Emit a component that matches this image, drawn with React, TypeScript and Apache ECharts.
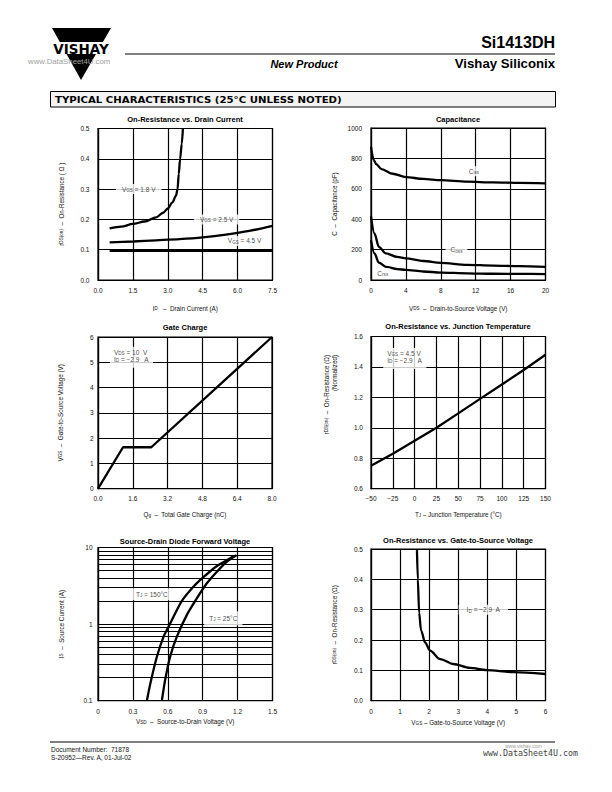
import React, { useEffect, useRef } from 'react';
import * as echarts from 'echarts';

const FONT = '"Liberation Sans", Arial, Helvetica, sans-serif';

// ---- Chart 1: On-Resistance vs. Drain Current ----
const ID_VGS18 = [0.5, 1.0, 1.5, 2.0, 2.5, 2.8, 3.0, 3.2, 3.35, 3.42, 3.47, 3.53, 3.6, 3.65];
const RDS_VGS18 = [0.170, 0.176, 0.185, 0.193, 0.207, 0.222, 0.236, 0.256, 0.278, 0.300, 0.350, 0.400, 0.450, 0.500];
const ID_VGS25 = [0.5, 1.5, 2.5, 3.5, 4.5, 5.5, 6.5, 7.5];
const RDS_VGS25 = [0.124, 0.127, 0.131, 0.135, 0.141, 0.150, 0.162, 0.179];
const ID_VGS45 = [0.5, 7.5];
const RDS_VGS45 = [0.096, 0.096];

// ---- Chart 2: Capacitance ----
const VDS_CAP = [0, 0.3, 0.6, 1.2, 2.5, 4, 6, 8, 11, 14, 17, 20];
const CISS = [878, 790, 762, 730, 699, 677, 665, 657, 647, 642, 639, 636];
const VDS_COSS = [0, 0.4, 0.9, 1.7, 3, 4, 6, 8, 11, 14, 17, 20];
const COSS = [419, 306, 218, 175, 152, 142, 125, 113, 100, 95, 91, 87];
const CRSS = [262, 175, 114, 87, 72, 66, 56, 49, 44, 41, 40, 39];

// ---- Chart 3: Gate Charge ----
const QG = [0, 1.15, 2.45, 8.0];
const VGS_QG = [0, 1.64, 1.64, 6.0];

// ---- Chart 4: On-Resistance vs. Junction Temperature ----
const TJ = [-50, -25, 0, 25, 50, 75, 100, 125, 150];
const RDS_NORM = [0.75, 0.83, 0.915, 1.0, 1.095, 1.19, 1.285, 1.38, 1.48];

// ---- Chart 5: Source-Drain Diode Forward Voltage ----
const VSD_150 = [0.42, 0.45, 0.506, 0.563, 0.606, 0.649, 0.72, 0.82, 0.906, 1.02, 1.134, 1.16];
const IS_150 = [0.1, 0.168, 0.375, 0.68, 0.92, 1.25, 2.0, 3.07, 4.1, 5.7, 7.2, 7.7];
const VSD_25 = [0.549, 0.577, 0.62, 0.677, 0.763, 0.849, 0.934, 1.02, 1.106, 1.19];
const IS_25 = [0.1, 0.186, 0.375, 0.68, 1.31, 2.16, 3.39, 4.8, 6.5, 7.9];
const IS_MINOR_TICKS = [0.2, 0.3, 0.4, 0.5, 0.6, 0.7, 0.8, 0.9, 2, 3, 4, 5, 6, 7, 8, 9];

// ---- Chart 6: On-Resistance vs. Gate-to-Source Voltage ----
const VGS_R = [1.58, 1.61, 1.655, 1.72, 1.86, 2.03, 2.38, 2.83, 3.4, 3.98, 4.89, 6.0];
const RDS_VGS = [0.5, 0.4, 0.29, 0.232, 0.192, 0.165, 0.137, 0.121, 0.108, 0.101, 0.094, 0.088];

// ---- Titles ----
const TITLES = [
  'On-Resistance vs. Drain Current',
  'Capacitance',
  'Gate Charge',
  'On-Resistance vs. Junction Temperature',
  'Source-Drain Diode Forward Voltage',
  'On-Resistance vs. Gate-to-Source Voltage',
];

const zip = (xs: number[], ys: number[]) => xs.map((x, i) => [x, ys[i]]);

const SUB = { fontSize: 4.6, fontFamily: FONT, color: '#111', verticalAlign: 'bottom', lineHeight: 4 };
const BASE_TXT = { fontSize: 6.5, fontFamily: FONT, color: '#111' };

const GRIDS = [
  { left: 98, top: 128.5, width: 174.5, height: 151.5 },
  { left: 371, top: 128, width: 174.5, height: 152 },
  { left: 98, top: 337, width: 174, height: 151.7 },
  { left: 371, top: 336.5, width: 174.5, height: 152.2 },
  { left: 98, top: 547.5, width: 174.5, height: 153.2 },
  { left: 371, top: 549, width: 174.5, height: 151.7 },
];

const LINE = { color: '#000', width: 1.2 };

function axis(gridIndex: number, o: any) {
  const a: any = {
    type: o.log ? 'log' : 'value',
    gridIndex,
    min: o.min,
    max: o.max,
    axisLine: { show: true, onZero: false, lineStyle: LINE },
    axisTick: { show: false },
    axisLabel: { show: true, fontSize: 6.5, fontFamily: FONT, color: '#111', margin: o.margin, formatter: o.fmt },
    splitLine: { show: true, lineStyle: LINE },
    name: o.name,
    nameLocation: 'middle',
    nameGap: o.gap,
    nameTextStyle: { fontSize: 6.3, fontFamily: FONT, color: '#111', rich: { s: SUB } },
  };
  if (o.log) {
    a.logBase = 10;
    a.splitNumber = 2;
  } else {
    a.interval = o.interval;
  }
  return a;
}

const f1 = (v: number) => v.toFixed(1);
const fInt = (v: number) => String(Math.round(v));

function curve(i: number, data: number[][], extra: any = {}) {
  return {
    type: 'line',
    xAxisIndex: i,
    yAxisIndex: i,
    data,
    symbol: 'none',
    showSymbol: false,
    smooth: 0.3,
    lineStyle: { color: '#000', width: 2.3 },
    silent: true,
    z: 3,
    ...extra,
  };
}

function notes(i: number, items: any[]) {
  return {
    type: 'scatter',
    xAxisIndex: i,
    yAxisIndex: i,
    symbolSize: 1,
    itemStyle: { color: 'rgba(0,0,0,0)' },
    silent: true,
    z: 5,
    data: items.map((n) => ({
      value: [n.x, n.y],
      label: {
        show: true,
        position: 'inside',
        formatter: n.text,
        align: n.align || 'center',
        ...BASE_TXT,
        lineHeight: n.lh || 8,
        backgroundColor: '#fff',
        padding: n.pad || [1, 5],
        rich: { s: SUB },
      },
    })),
  };
}

function txt(x: number, y: number, text: string, s: any = {}, extra: any = {}) {
  const style: any = {
    text,
    fill: '#111',
    fontSize: 6.5,
    fontFamily: FONT,
    align: 'left',
    verticalAlign: 'middle',
    textAlign: 'left',
    textVerticalAlign: 'middle',
    ...s,
  };
  if (s.align) style.textAlign = s.align;
  return { type: 'text', x, y, style, ...extra };
}

export default function App() {
  const ref = useRef<HTMLDivElement>(null);
  useEffect(() => {
    if (!ref.current) return;
    const chart = echarts.init(ref.current, null, { renderer: 'svg' });

    const xAxes = [
      axis(0, { min: 0, max: 7.5, interval: 1.5, fmt: f1, margin: 6.5, gap: 25, name: 'I{s|D}   –  Drain Current (A)' }),
      axis(1, { min: 0, max: 20, interval: 4, fmt: fInt, margin: 6.5, gap: 25, name: 'V{s|DS}  –  Drain-to-Source Voltage (V)' }),
      axis(2, { min: 0, max: 8, interval: 1.6, fmt: f1, margin: 6, gap: 23, name: 'Q{s|g}  –  Total Gate Charge (nC)' }),
      axis(3, { min: -50, max: 150, interval: 25, fmt: (v: number) => (v < 0 ? '−' + Math.abs(v) : String(v)), margin: 6, gap: 23, name: 'T{s|J} – Junction Temperature (°C)' }),
      axis(4, { min: 0, max: 1.5, interval: 0.3, fmt: (v: number) => (v === 0 ? '0' : v.toFixed(1)), margin: 7.5, gap: 18, name: 'V{s|SD}  –  Source-to-Drain Voltage (V)' }),
      axis(5, { min: 0, max: 6, interval: 1, fmt: fInt, margin: 7.5, gap: 19, name: 'V{s|GS} – Gate-to-Source Voltage (V)' }),
    ];
    const yAxes = [
      axis(0, { min: 0, max: 0.5, interval: 0.1, fmt: f1, margin: 8.5, gap: 34, name: 'r{s|DS(on)}  –  On-Resistance ( Ω )' }),
      axis(1, { min: 0, max: 1000, interval: 200, fmt: fInt, margin: 9, gap: 34, name: 'C  –  Capacitance (pF)' }),
      axis(2, { min: 0, max: 6, interval: 1, fmt: fInt, margin: 4.5, gap: 35, name: 'V{s|GS}  –  Gate-to-Source Voltage (V)' }),
      axis(3, { min: 0.6, max: 1.6, interval: 0.2, fmt: f1, margin: 8, gap: 34, name: '' }),
      axis(4, { log: true, min: 0.1, max: 10, fmt: (v: number) => String(Math.round(v * 1000) / 1000), margin: 5.5, gap: 34, name: 'I{s|S}  –  Source Current (A)' }),
      axis(5, { min: 0, max: 0.5, interval: 0.1, fmt: f1, margin: 8, gap: 34, name: 'r{s|DS(on)}  –  On-Resistance (Ω)' }),
    ];

    const series: any[] = [
      curve(0, zip(ID_VGS18, RDS_VGS18), { smoothMonotone: 'x' }),
      curve(0, zip(ID_VGS25, RDS_VGS25)),
      curve(0, zip(ID_VGS45, RDS_VGS45), { smooth: false }),
      notes(0, [
        { x: 1.75, y: 0.3, text: 'V{s|GS} = 1.8 V', pad: [1, 6] },
        { x: 5.1, y: 0.2, text: 'V{s|GS} = 2.5 V', pad: [1, 6] },
        { x: 6.3, y: 0.129, text: 'V{s|GS} = 4.5 V', pad: [1, 3] },
      ]),
      curve(1, zip(VDS_CAP, CISS), { smoothMonotone: 'x' }),
      curve(1, zip(VDS_COSS, COSS), { smoothMonotone: 'x' }),
      curve(1, zip(VDS_COSS, CRSS), { smoothMonotone: 'x' }),
      notes(1, [
        { x: 11.8, y: 716, text: 'C{s|iss}', pad: [1, 2] },
        { x: 9.8, y: 200, text: 'C{s|oss}', pad: [1, 5] },
        { x: 1.35, y: 44, text: 'C{s|rss}', pad: [1, 2] },
      ]),
      curve(2, zip(QG, VGS_QG), { smooth: false }),
      notes(2, [
        { x: 0.55, y: 5.2, text: 'V{s|DS} = 10  V\nI{s|D} = −2.9   A', align: 'left', lh: 7, pad: [2, 4, 5, 4] },
      ]),
      curve(3, zip(TJ, RDS_NORM), { smooth: false }),
      notes(3, [
        { x: -36, y: 1.455, text: 'V{s|GS} = 4.5 V\nI{s|D} = −2.9   A', align: 'left', lh: 7, pad: [2, 4, 5, 4] },
      ]),
      curve(4, zip(VSD_150, IS_150), {
        smooth: 0.25,
        markLine: {
          silent: true,
          symbol: ['none', 'none'],
          label: { show: false },
          lineStyle: { color: '#000', type: 'solid', width: 1.2 },
          data: IS_MINOR_TICKS.map((v) => ({ yAxis: v })),
          z: 1,
        },
      }),
      curve(4, zip(VSD_25, IS_25), { smooth: 0.25 }),
      notes(4, [
        { x: 0.463, y: 2.46, text: 'T{s|J} = 150°C', pad: [2, 5] },
        { x: 1.077, y: 1.19, text: 'T{s|J} = 25°C', pad: [3, 5] },
      ]),
      curve(5, zip(VGS_R, RDS_VGS), { smoothMonotone: 'x' }),
      notes(5, [{ x: 3.86, y: 0.3, text: 'I{s|D} = −2.9  A', pad: [1, 8] }]),
    ];

    const titleCenters = [
      [185, 119], [458, 119], [185, 327], [458, 326], [185, 541], [458, 540],
    ];
    const titleEls = TITLES.map((t, i) =>
      txt(titleCenters[i][0], titleCenters[i][1], t, { fontSize: 7.5, fontWeight: 'bold', fill: '#000', align: 'center' })
    );

    const graphic: any[] = [
      // logo
      { type: 'polygon', shape: { points: [[52, 28], [111, 28], [81, 80]] }, style: { fill: '#000' } },
      { type: 'rect', shape: { x: 46, y: 42, width: 70, height: 12 }, style: { fill: '#fff' } },
      txt(81, 48.6, 'VISHAY', { fontSize: 13.5, fontWeight: 'bold', fontFamily: '"DejaVu Sans", sans-serif', fill: '#000', align: 'center' }),
      txt(28, 61, 'www.DataSheet4U.com', { fontSize: 7.8, fill: '#a0a0a0' }),
      // header
      { type: 'line', shape: { x1: 125, y1: 54, x2: 555, y2: 54 }, style: { stroke: '#000', lineWidth: 1 } },
      txt(555, 42.5, 'Si1413DH', { fontSize: 16, fontWeight: 'bold', fill: '#000', align: 'right' }),
      txt(555, 63.5, 'Vishay Siliconix', { fontSize: 13.2, fontWeight: 'bold', fill: '#000', align: 'right' }),
      txt(304, 63.5, 'New Product', { fontSize: 11, fontWeight: 'bold', fontStyle: 'italic', fill: '#000', align: 'center' }),
      { type: 'rect', shape: { x: 50.5, y: 91.5, width: 505, height: 15.5 }, style: { fill: '#f3f3f3', stroke: '#000', lineWidth: 1 } },
      txt(55, 99.5, 'TYPICAL CHARACTERISTICS (25°C UNLESS NOTED)', { fontSize: 9, fontWeight: 'bold', fontFamily: '"DejaVu Sans", sans-serif', fill: '#000' }, { scaleX: 1.13 }),
      // chart 4 y-axis name (two lines, end-aligned)
      txt(326, 355, 'r{s|DS(on)}  –  On-Resistance (Ω)', { fontSize: 6.3, align: 'right', rich: { s: SUB } }, { rotation: Math.PI / 2 }),
      txt(334.5, 355, '(Normalized)', { fontSize: 6.3, align: 'right' }, { rotation: Math.PI / 2 }),
      // footer
      { type: 'line', shape: { x1: 50, y1: 742, x2: 555, y2: 742 }, style: { stroke: '#000', lineWidth: 1 } },
      txt(51, 749.3, 'Document Number:  71878', { fontSize: 6.5 }),
      txt(51, 757.7, 'S-20952—Rev. A, 01-Jul-02', { fontSize: 6.5 }),
      txt(505, 746, 'www.vishay.com', { fontSize: 5, fill: '#999' }),
      txt(483, 753, 'www.DataSheet4U.com', { fontSize: 8.3, fontFamily: '"DejaVu Sans Mono", monospace', fill: '#444' }),
      ...titleEls,
    ];

    chart.setOption({
      animation: false,
      backgroundColor: '#fff',
      grid: GRIDS.map((g) => ({ ...g, show: true, borderColor: '#000', borderWidth: 1.2, containLabel: false })),
      xAxis: xAxes,
      yAxis: yAxes,
      series,
      graphic,
    });
    return () => chart.dispose();
  }, []);

  return (
    <div
      ref={ref}
      style={{ position: 'absolute', left: 0, top: 0, width: 612, height: 792, background: '#fff' }}
    />
  );
}
